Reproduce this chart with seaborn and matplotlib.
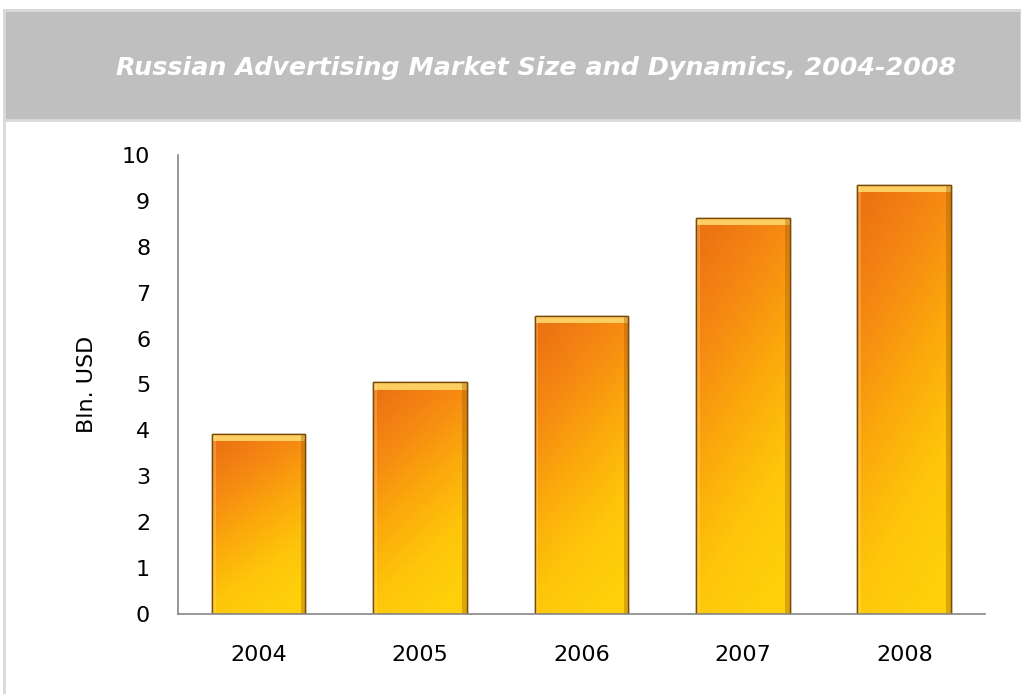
import numpy as np
import pandas as pd
import seaborn as sns
import matplotlib.pyplot as plt
from matplotlib.patches import Rectangle
from matplotlib.colors import LinearSegmentedColormap

# Data
years = ['2004', '2005', '2006', '2007', '2008']
market_size = [3.92, 5.05, 6.5, 8.63, 9.35]

df = pd.DataFrame({'year': years, 'size': market_size})

sns.set_style('white')
plt.rcParams['font.family'] = ['DejaVu Sans']

fig = plt.figure(figsize=(10.21, 6.94), dpi=100)

# Title band
fig.patches.append(Rectangle((0.004, 0.827), 0.996, 0.159, transform=fig.transFigure,
                             facecolor='#BFBFBF', edgecolor='#D9D9D9', linewidth=2, zorder=0))
# Outer frame
fig.patches.append(Rectangle((0.004, -0.01), 1.0, 0.996, transform=fig.transFigure,
                             facecolor='none', edgecolor='#D9D9D9', linewidth=2, zorder=0))
fig.text(0.525, 0.902, 'Russian Advertising Market Size and Dynamics, 2004-2008',
         ha='center', va='center', color='white', fontsize=18.3,
         fontweight='bold', fontstyle='italic')

ax = fig.add_axes([0.1743, 0.1153, 0.7904, 0.6614])
sns.barplot(data=df, x='year', y='size', color='#F7941D', width=0.58,
            edgecolor='#7A4A08', linewidth=1.0, ax=ax)

# Diagonal orange-to-yellow gradient on each bar (dark orange top-left, yellow bottom-right)
cmap = LinearSegmentedColormap.from_list('bar', ['#EC7212', '#F68A12', '#FBA90C', '#FEC50A', '#FFD00A'])
ny, nx = 200, 60
t, xx = np.mgrid[0:1:ny * 1j, 0:1:nx * 1j]   # t: 0 at top, 1 at bottom
grad = np.clip(0.85 * t + 0.3 * xx - 0.05, 0, 1)
for p in list(ax.patches):
    x0, y0 = p.get_x(), p.get_y()
    w, h = p.get_width(), p.get_height()
    im = ax.imshow(grad, cmap=cmap, extent=[x0, x0 + w, y0, y0 + h],
                   origin='upper', aspect='auto', zorder=p.get_zorder() + 0.1,
                   vmin=0, vmax=1)
    im.set_clip_path(p)
    # bevel: light top strip, dark right edge, soft left highlight
    ax.add_patch(Rectangle((x0, y0 + h - 0.16), w, 0.16, facecolor='#FFD86A', alpha=0.9,
                           edgecolor='none', zorder=p.get_zorder() + 0.2))
    ax.add_patch(Rectangle((x0 + w * 0.95, y0), w * 0.05, h, facecolor='#9A5A05', alpha=0.35,
                           edgecolor='none', zorder=p.get_zorder() + 0.2))
    ax.add_patch(Rectangle((x0, y0), w * 0.04, h, facecolor='#FFE9A0', alpha=0.25,
                           edgecolor='none', zorder=p.get_zorder() + 0.2))
    ax.add_patch(Rectangle((x0, y0), w, h, facecolor='none', edgecolor='#7A4A08',
                           linewidth=1.0, zorder=p.get_zorder() + 0.3))

ax.set_xlim(-0.5, 4.5)
ax.set_ylim(0, 10)
ax.set_yticks(range(0, 11))
ax.set_xlabel('')
ax.set_ylabel('Bln. USD', fontsize=16, labelpad=18)
ax.tick_params(axis='y', labelsize=16, pad=20, length=0, labelcolor='black')
ax.tick_params(axis='x', labelsize=16, pad=22, length=0, labelcolor='black')
ax.yaxis.label.set_color('black')
for s in ['top', 'right']:
    ax.spines[s].set_visible(False)
for s in ['left', 'bottom']:
    ax.spines[s].set_color('#868686')
    ax.spines[s].set_linewidth(1.2)

fig.savefig('out.png', dpi=100)
